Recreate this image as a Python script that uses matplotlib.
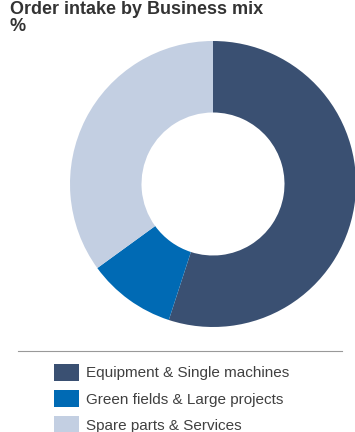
import matplotlib
matplotlib.use("Agg")
from matplotlib import pyplot as plt
from matplotlib.patches import Patch
from matplotlib.lines import Line2D

plt.rcParams['font.family'] = ['Liberation Sans', 'DejaVu Sans']

# Business mix data (% of order intake)
labels = ['Equipment & Single machines', 'Green fields & Large projects', 'Spare parts & Services']
shares = [55, 10, 35]
colors = ['#3A5072', '#006AB4', '#C3CFE2']

title = 'Order intake by Business mix'
unit = '%'

fig = plt.figure(figsize=(3.55, 4.32), dpi=100)

# donut, centred a bit right so it runs to the right edge
ax = fig.add_axes([70/355, 1 - 327/432, 286/355, 286/432])
ax.pie(shares, colors=colors, startangle=90, counterclock=False,
       radius=1, wedgeprops=dict(width=0.5, edgecolor='none'))
ax.set_xlim(-1, 1)
ax.set_ylim(-1, 1)
ax.set_aspect('equal')
ax.axis('off')

fig.text(10/355, 1 - 14/432, title, fontsize=13, fontweight='bold', color='#333333',
         ha='left', va='baseline')
fig.text(10/355, 1 - 31/432, unit, fontsize=13, fontweight='bold', color='#333333',
         ha='left', va='baseline')

# thin separator above legend
fig.add_artist(Line2D([18/355, 342/355], [1 - 351/432, 1 - 351/432],
                      transform=fig.transFigure, color='#999999', lw=0.8))

handles = [Patch(facecolor=c, edgecolor='none') for c in colors]
fig.legend(handles, labels, loc='upper left', bbox_to_anchor=(54/355, 1 - 364/432),
           frameon=False, fontsize=11, borderpad=0, borderaxespad=0,
           handlelength=1.65, handleheight=1.3, handletextpad=0.45,
           labelspacing=0.62, labelcolor='#404040')

fig.savefig('out.png', dpi=100)
